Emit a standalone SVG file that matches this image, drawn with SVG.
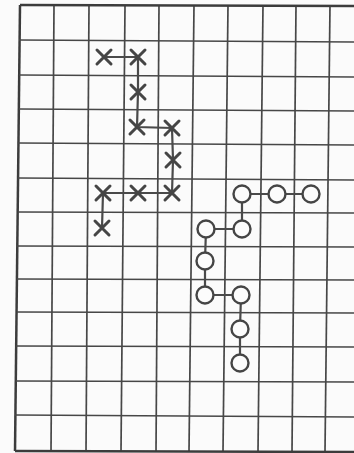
<svg xmlns="http://www.w3.org/2000/svg" width="354" height="453" viewBox="0 0 354 453">
<style>
.g{stroke:#474747;stroke-width:1.7;fill:none}
.b{stroke:#3c3c3c;stroke-width:2.5;fill:none}
.c{stroke:#4a4a4a;stroke-width:2.2;fill:none}
.x{stroke:#454545;stroke-width:3;stroke-linecap:round;fill:none}
.o{stroke:#454545;stroke-width:2.4;fill:#fcfcfc}
</style>
<rect width="354" height="453" fill="#fbfbfb"/>
<g id="grid">
<line class="b" x1="20" y1="5" x2="15" y2="451"/>
<line class="g" x1="54" y1="5" x2="51" y2="451"/>
<line class="g" x1="89" y1="5" x2="86" y2="451"/>
<line class="g" x1="125" y1="5" x2="121" y2="451"/>
<line class="g" x1="159" y1="5" x2="156" y2="451"/>
<line class="g" x1="194" y1="5" x2="189" y2="451"/>
<line class="g" x1="228" y1="5" x2="223" y2="451"/>
<line class="g" x1="263" y1="5" x2="258" y2="451"/>
<line class="g" x1="296" y1="5" x2="292" y2="451"/>
<line class="g" x1="330" y1="5" x2="325" y2="451"/>
<line class="b" x1="20" y1="5" x2="354" y2="6"/>
<line class="g" x1="19" y1="40" x2="354" y2="42"/>
<line class="g" x1="19" y1="75" x2="354" y2="77"/>
<line class="g" x1="19" y1="109" x2="354" y2="111"/>
<line class="g" x1="18" y1="143" x2="354" y2="145"/>
<line class="g" x1="18" y1="178" x2="354" y2="180"/>
<line class="g" x1="18" y1="212" x2="354" y2="213"/>
<line class="g" x1="17" y1="246" x2="354" y2="247"/>
<line class="g" x1="17" y1="279" x2="354" y2="280"/>
<line class="g" x1="17" y1="312" x2="354" y2="313"/>
<line class="g" x1="16" y1="346" x2="354" y2="347"/>
<line class="g" x1="16" y1="381" x2="354" y2="382"/>
<line class="g" x1="15" y1="415" x2="354" y2="417"/>
<line class="b" x1="15" y1="451" x2="354" y2="452"/>
</g>
<g id="connectors">
<polyline class="c" points="104,57 138,57 138,92 137,127 172,128 173,160 172,193 138,193 103,193 102,228"/>
<polyline class="c" points="311,194 277,194 242,194 242,229 206,229 205,261 205,295 241,295 240,329 240,363"/>
</g>
<g id="x1"><path class="x" d="M97,50L111,64M111,50L97,64"/></g>
<g id="x2"><path class="x" d="M131,50L145,64M145,50L131,64"/></g>
<g id="x3"><path class="x" d="M131,85L145,99M145,85L131,99"/></g>
<g id="x4"><path class="x" d="M130,120L144,134M144,120L130,134"/></g>
<g id="x5"><path class="x" d="M165,121L179,135M179,121L165,135"/></g>
<g id="x6"><path class="x" d="M166,153L180,167M180,153L166,167"/></g>
<g id="x7"><path class="x" d="M165,186L179,200M179,186L165,200"/></g>
<g id="x8"><path class="x" d="M131,186L145,200M145,186L131,200"/></g>
<g id="x9"><path class="x" d="M96,186L110,200M110,186L96,200"/></g>
<g id="x10"><path class="x" d="M95,221L109,235M109,221L95,235"/></g>
<g id="o1"><circle class="o" cx="242" cy="194" r="8.5"/></g>
<g id="o2"><circle class="o" cx="277" cy="194" r="8.5"/></g>
<g id="o3"><circle class="o" cx="311" cy="194" r="8.5"/></g>
<g id="o4"><circle class="o" cx="206" cy="229" r="8.5"/></g>
<g id="o5"><circle class="o" cx="242" cy="229" r="8.5"/></g>
<g id="o6"><circle class="o" cx="205" cy="261" r="8.5"/></g>
<g id="o7"><circle class="o" cx="205" cy="295" r="8.5"/></g>
<g id="o8"><circle class="o" cx="241" cy="295" r="8.5"/></g>
<g id="o9"><circle class="o" cx="240" cy="329" r="8.5"/></g>
<g id="o10"><circle class="o" cx="240" cy="363" r="8.5"/></g>
</svg>
